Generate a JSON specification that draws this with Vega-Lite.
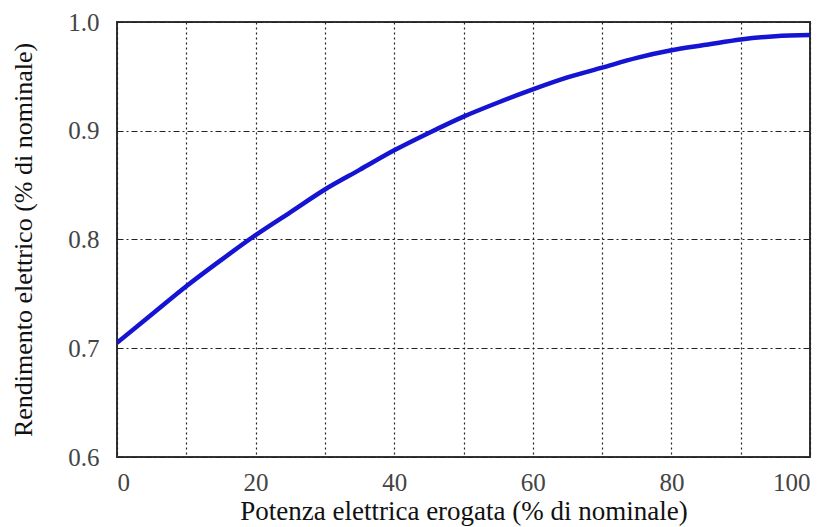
{
  "$schema": "https://vega.github.io/schema/vega-lite/v6.json",
  "autosize": "none",
  "padding": {"left": 117, "top": 22, "right": 20, "bottom": 70},
  "width": 693,
  "height": 435,
  "background": "white",
  "config": {
    "view": {"stroke": "#333333", "strokeWidth": 2},
    "font": "Times New Roman, Liberation Serif, serif"
  },
  "data": {
    "values": [
      {"potenza": 0, "rendimento": 0.705},
      {"potenza": 5, "rendimento": 0.731},
      {"potenza": 10, "rendimento": 0.757},
      {"potenza": 15, "rendimento": 0.781},
      {"potenza": 20, "rendimento": 0.804},
      {"potenza": 25, "rendimento": 0.825},
      {"potenza": 30, "rendimento": 0.846},
      {"potenza": 35, "rendimento": 0.864},
      {"potenza": 40, "rendimento": 0.882},
      {"potenza": 45, "rendimento": 0.898},
      {"potenza": 50, "rendimento": 0.913},
      {"potenza": 55, "rendimento": 0.926},
      {"potenza": 60, "rendimento": 0.938},
      {"potenza": 65, "rendimento": 0.949},
      {"potenza": 70, "rendimento": 0.958},
      {"potenza": 75, "rendimento": 0.967},
      {"potenza": 80, "rendimento": 0.974},
      {"potenza": 85, "rendimento": 0.979},
      {"potenza": 90, "rendimento": 0.984},
      {"potenza": 95, "rendimento": 0.987},
      {"potenza": 100, "rendimento": 0.988}
    ]
  },
  "mark": {"type": "line", "color": "#1414d2", "strokeWidth": 4.5, "interpolate": "monotone", "clip": true},
  "encoding": {
    "x": {
      "field": "potenza",
      "type": "quantitative",
      "scale": {"domain": [0, 100], "nice": false, "zero": false},
      "axis": {
        "title": "Potenza elettrica erogata (% di nominale)",
        "values": [0, 10, 20, 30, 40, 50, 60, 70, 80, 90, 100],
        "labelExpr": "datum.value % 20 == 0 ? datum.label : ''",
        "grid": true,
        "gridColor": "#222222",
        "gridDash": [2, 3],
        "gridWidth": 1.2,
        "gridOpacity": 1,
        "ticks": false,
        "domain": false,
        "labelFont": "Times New Roman, Liberation Serif, serif",
        "labelFontSize": 25,
        "labelColor": "#444444",
        "labelPadding": 13,
        "titleFont": "Times New Roman, Liberation Serif, serif",
        "titleFontSize": 27,
        "titleFontWeight": "normal",
        "titleColor": "#111111",
        "titlePadding": 3
      }
    },
    "y": {
      "field": "rendimento",
      "type": "quantitative",
      "scale": {"domain": [0.6, 1.0], "nice": false, "zero": false},
      "axis": {
        "title": "Rendimento elettrico (% di nominale)",
        "values": [0.6, 0.7, 0.8, 0.9, 1.0],
        "format": ".1f",
        "grid": true,
        "gridColor": "#222222",
        "gridDash": [6, 3, 2, 3],
        "gridWidth": 1.2,
        "gridOpacity": 1,
        "ticks": false,
        "domain": false,
        "labelFont": "Times New Roman, Liberation Serif, serif",
        "labelFontSize": 25,
        "labelColor": "#444444",
        "labelPadding": 18,
        "titleFont": "Times New Roman, Liberation Serif, serif",
        "titleFontSize": 26,
        "titleFontWeight": "normal",
        "titleColor": "#111111",
        "titlePadding": 31
      }
    }
  }
}
